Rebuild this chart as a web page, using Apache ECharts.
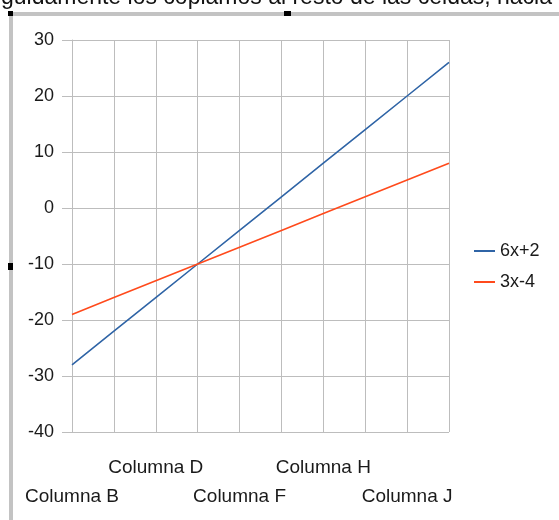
<!DOCTYPE html>
<html>
<head>
<meta charset="utf-8">
<script src="https://cdn.jsdelivr.net/npm/echarts@6/dist/echarts.min.js"></script>
<style>
  html, body { margin: 0; padding: 0; background: #ffffff; }
  #chart { width: 559px; height: 520px; }
</style>
</head>
<body>
<div id="chart"></div>
<script>
// Category columns along the x axis
const categories = ['Columna B', 'Columna C', 'Columna D', 'Columna E', 'Columna F',
                    'Columna G', 'Columna H', 'Columna I', 'Columna J', 'Columna K'];

// Values of each function per column
const serie6x2 = [-28, -22, -16, -10, -4, 2, 8, 14, 20, 26];
const serie3x4 = [-19, -16, -13, -10, -7, -4, -1, 2, 5, 8];

const seriesNames = ['6x+2', '3x-4'];
const seriesColors = ['#2f64a6', '#ff4a1c'];

// Y axis range
const yMin = -40, yMax = 30, yStep = 10;

const gridColor = '#bdbdbd';
const textColor = '#1a1a1a';
const fontFamily = '"Liberation Sans", Arial, sans-serif';

const labelStyle = { fontFamily: fontFamily, fontSize: 19, color: textColor };

const chart = echarts.init(document.getElementById('chart'), null, { renderer: 'canvas' });

chart.setOption({
  animation: false,
  backgroundColor: '#ffffff',
  grid: { left: 72, right: 110, top: 40, bottom: 88, containLabel: false },
  legend: {
    orient: 'vertical',
    left: 469,
    top: 236,
    itemWidth: 21,
    itemHeight: 2,
    itemGap: 11,
    icon: 'rect',
    textStyle: { fontFamily: fontFamily, fontSize: 18, color: textColor, lineHeight: 20 },
    data: seriesNames
  },
  xAxis: [
    {
      // main axis: ticks, grid and the upper row of labels
      type: 'category',
      position: 'bottom',
      data: categories,
      boundaryGap: false,
      axisLine: { show: true, lineStyle: { color: gridColor, width: 1 } },
      axisTick: { show: true, interval: 0, length: 10, lineStyle: { color: gridColor } },
      splitLine: { show: true, interval: 0, lineStyle: { color: gridColor, width: 1 } },
      axisLabel: Object.assign({
        margin: 26,
        interval: function (index) { return index % 4 === 2; }
      }, labelStyle)
    },
    {
      // lower row of staggered labels
      type: 'category',
      position: 'bottom',
      offset: 0,
      data: categories,
      boundaryGap: false,
      axisLine: { show: false },
      axisTick: { show: false },
      splitLine: { show: false },
      axisLabel: Object.assign({
        margin: 55,
        interval: function (index) { return index % 4 === 0; }
      }, labelStyle)
    }
  ],
  yAxis: {
    type: 'value',
    min: yMin,
    max: yMax,
    interval: yStep,
    axisLine: { show: true, lineStyle: { color: gridColor, width: 1 } },
    axisTick: { show: true, length: 10, lineStyle: { color: gridColor } },
    splitLine: { show: true, lineStyle: { color: gridColor, width: 1 } },
    axisLabel: {
      margin: 18,
      fontFamily: fontFamily,
      fontSize: 18,
      color: textColor
    }
  },
  series: [
    {
      name: seriesNames[0],
      type: 'line',
      xAxisIndex: 0,
      data: serie6x2,
      symbol: 'none',
      color: seriesColors[0],
      lineStyle: { width: 1.6, color: seriesColors[0] }
    },
    {
      name: seriesNames[1],
      type: 'line',
      xAxisIndex: 0,
      data: serie3x4,
      symbol: 'none',
      color: seriesColors[1],
      lineStyle: { width: 1.6, color: seriesColors[1] }
    }
  ],
  graphic: [
    // document text running above the embedded chart frame
    {
      type: 'text',
      x: 552,
      y: -2,
      style: {
        text: 'Seguidamente los copiamos al resto de las celdas, hacia',
        fontFamily: fontFamily,
        fontSize: 23,
        fill: '#111111',
        align: 'right',
        verticalAlign: 'middle'
      },
      z: 10
    },
    // frame of the embedded object
    { type: 'rect', shape: { x: 9, y: 12, width: 550, height: 4 }, style: { fill: '#c3c3c3' }, z: 10 },
    { type: 'rect', shape: { x: 9, y: 12, width: 4, height: 508 }, style: { fill: '#c3c3c3' }, z: 10 },
    // selection handles
    { type: 'rect', shape: { x: 8, y: 11, width: 5, height: 5 }, style: { fill: '#000000' }, z: 11 },
    { type: 'rect', shape: { x: 284, y: 11, width: 7, height: 5 }, style: { fill: '#000000' }, z: 11 },
    { type: 'rect', shape: { x: 8, y: 263, width: 5, height: 7 }, style: { fill: '#000000' }, z: 11 }
  ]
});
</script>
</body>
</html>
